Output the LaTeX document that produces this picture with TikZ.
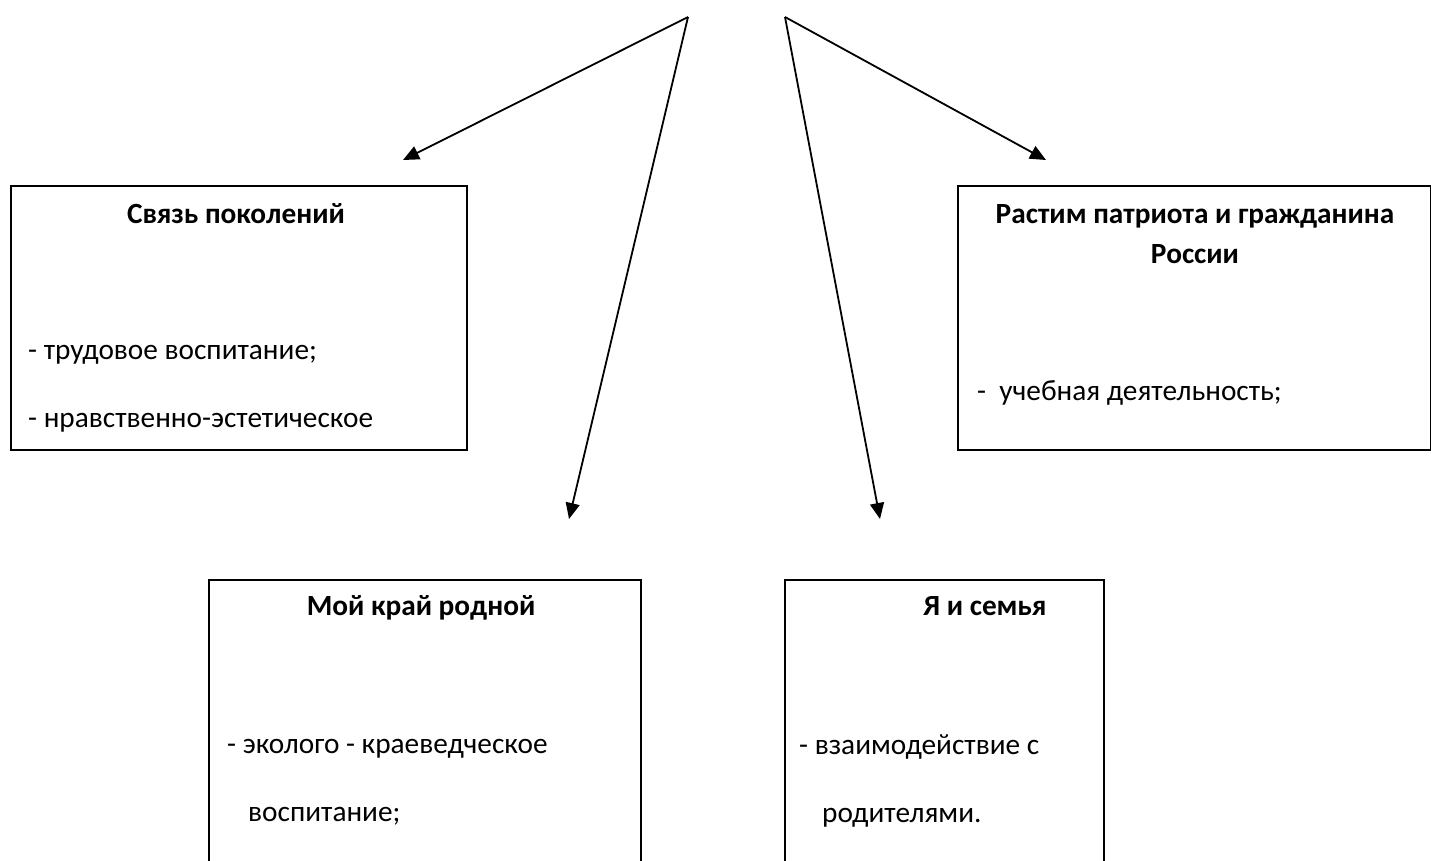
\documentclass[tikz,border=0pt]{standalone}
\usepackage{fontspec}
\setmainfont{Carlito}
\usetikzlibrary{arrows.meta}

\begin{document}
\begin{tikzpicture}[x=1pt, y=-1pt,
    box/.style={draw, line width=1.9pt, inner sep=0pt, anchor=north west},
    head/.style={font=\bfseries, anchor=base, inner sep=0pt},
    item/.style={anchor=base west, inner sep=0pt},
    link/.style={line width=1.8pt, -{Triangle[length=16pt, width=14pt]}}]
    \fontsize{29.3}{35}\selectfont
    \useasboundingbox (0, 0) rectangle (1431, 860);
    \clip (0, 0) rectangle (1431, 860);

    % вершины стрелок
    \coordinate (apexL) at (688, 17);
    \coordinate (apexR) at (785, 17);
    \coordinate (tipA) at (403, 160);
    \coordinate (tipB) at (569, 519);
    \coordinate (tipC) at (880, 519);
    \coordinate (tipD) at (1046, 160);

    % рамки
    \node [box, minimum width=456pt, minimum height=264pt] (svyaz) at (10, 185) {};
    \node [box, minimum width=473pt, minimum height=264pt] (patriot) at (957, 185) {};
    \node [box, minimum width=432pt, minimum height=320pt] (kraj) at (208, 579) {};
    \node [box, minimum width=319pt, minimum height=320pt] (semya) at (784, 579) {};

    % заголовки
    \node [head] (svyazT) at (236, 223) {Связь поколений};
    \node [head] (patriotT) at (1195, 223) {Растим патриота и гражданина};
    \node [head] (patriotT2) at (1195, 263) {России};
    \node [head] (krajT) at (421, 615) {Мой край родной};
    \node [head] (semyaT) at (985, 615) {Я и семья};

    % направления
    \node [item] (trud) at (28, 359) {- трудовое воспитание;};
    \node [item] (nravst) at (28, 427) {- нравственно-эстетическое};
    \node [item] (ucheb) at (977, 400) {-\ \ учебная деятельность;};
    \node [item] (eko) at (227, 753) {- эколого - краеведческое};
    \node [item] (eko2) at (248, 821) {воспитание;};
    \node [item] (vzaim) at (799, 754) {- взаимодействие с};
    \node [item] (vzaim2) at (822, 822) {родителями.};

    % стрелки
    \draw [link] (apexL) -- (tipA);
    \draw [link] (apexL) -- (tipB);
    \draw [link] (apexR) -- (tipC);
    \draw [link] (apexR) -- (tipD);
\end{tikzpicture}
\end{document}
